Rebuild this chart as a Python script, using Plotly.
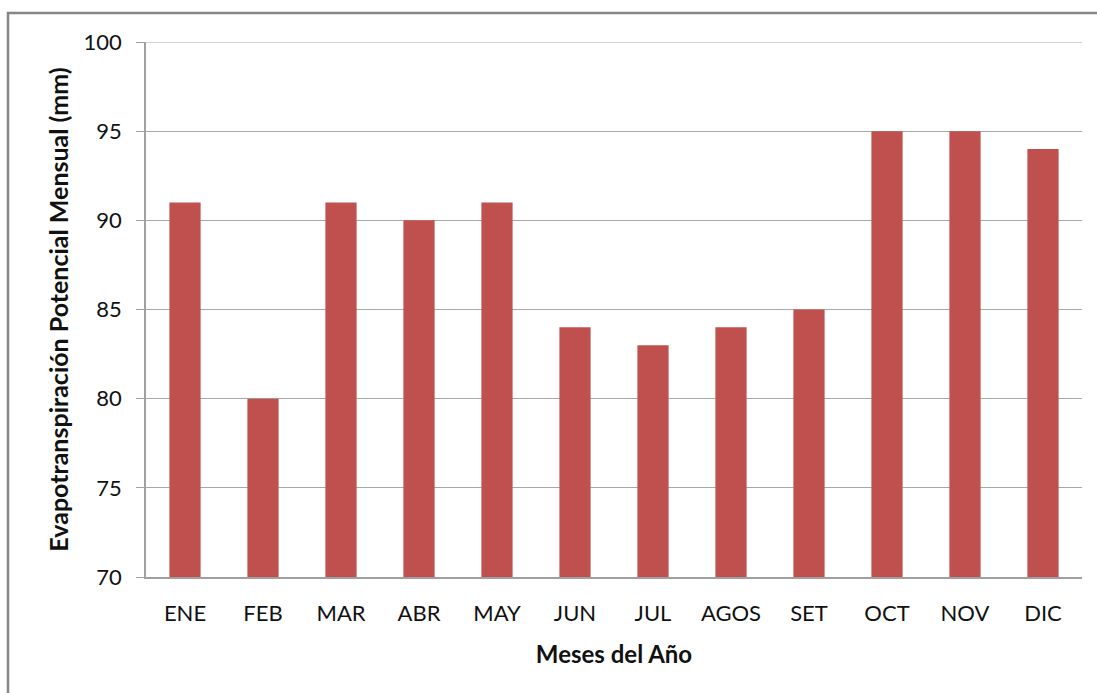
import plotly.graph_objects as go

# Monthly potential evapotranspiration (mm)
meses = ["ENE", "FEB", "MAR", "ABR", "MAY", "JUN", "JUL", "AGOS", "SET", "OCT", "NOV", "DIC"]
etp_mm = [91, 80, 91, 90, 91, 84, 83, 84, 85, 95, 95, 94]

y_ticks = [70, 75, 80, 85, 90, 95, 100]
y_floor = 70
y_top = 100

W, H = 1097, 693
L, R, T, B = 146, 15, 42, 115.5
pw, ph = W - L - R, H - T - B

fig = go.Figure(
    go.Bar(
        x=meses,
        y=[v - y_floor for v in etp_mm],
        base=y_floor,
        marker=dict(color="#C0504D", line=dict(width=0)),
        width=0.4,
        hovertext=[str(v) for v in etp_mm],
    )
)

font_family = "Lato, 'Open Sans', sans-serif"

fig.update_layout(
    width=W,
    height=H,
    margin=dict(l=L, r=R, t=T, b=B, pad=0),
    paper_bgcolor="white",
    plot_bgcolor="white",
    showlegend=False,
    font=dict(family=font_family, color="#111111", size=22),
    xaxis=dict(
        showgrid=False,
        showline=True,
        linecolor="#A0A0A0",
        linewidth=1.5,
        ticks="",
        ticklabelstandoff=16,
        tickfont=dict(size=22),
        title=dict(
            text="<b>Meses del Año</b>",
            font=dict(size=24, color="#111111"),
            standoff=21,
        ),
    ),
    yaxis=dict(
        range=[y_floor, y_top],
        tickvals=y_ticks,
        showgrid=True,
        gridcolor="#A8A8A8",
        gridwidth=1.2,
        showline=True,
        linecolor="#A0A0A0",
        linewidth=1.5,
        ticks="outside",
        ticklen=8,
        tickcolor="#A0A0A0",
        ticklabelstandoff=10,
        tickfont=dict(size=22),
        zeroline=False,
        title=dict(
            text="<b>Evapotranspiración Potencial Mensual (mm)</b>",
            font=dict(size=25, color="#111111"),
            standoff=8,
        ),
    ),
)

# gridline along the top of the value axis
fig.add_shape(
    type="line",
    xref="paper",
    yref="y",
    x0=0,
    x1=1,
    y0=y_top,
    y1=y_top,
    line=dict(color="#A8A8A8", width=1.2),
    layer="below",
)

# outer chart frame
fig.add_shape(
    type="rect",
    xref="paper",
    yref="paper",
    x0=(8 - L) / pw,
    x1=(W + 10 - L) / pw,
    y0=-(H + 10 - T - ph) / ph,
    y1=(ph + T - 13) / ph,
    line=dict(color="#868686", width=2.5),
    fillcolor="rgba(0,0,0,0)",
    layer="below",
)

fig.write_html("out.html")
